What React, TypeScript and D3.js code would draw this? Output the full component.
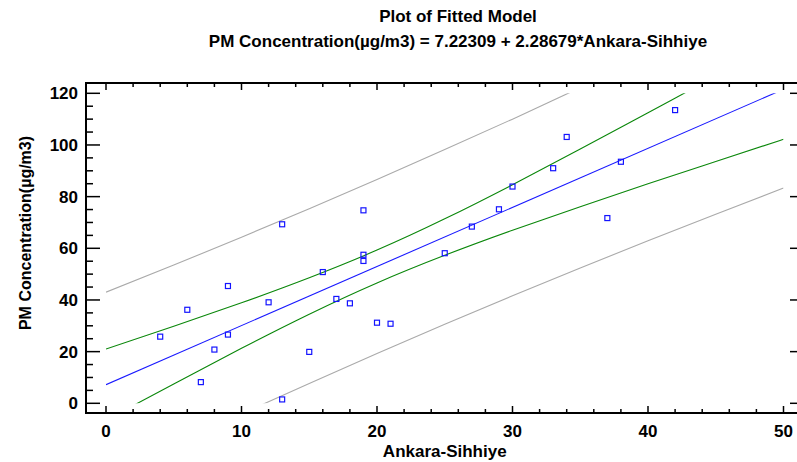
import * as d3 from 'd3';

// observations (Ankara-Sihhiye vs PM concentration)
const obsX = [4, 6, 7, 8, 9, 9, 12, 13, 13, 15, 16, 17, 18, 19, 19, 19, 20, 21, 25, 27, 29, 30, 33, 34, 37, 38, 42];
const obsY = [25.8, 36.2, 8.2, 20.8, 45.4, 26.6, 39.1, 1.5, 69.3, 19.9, 50.8, 40.4, 38.7, 57.5, 55.1, 74.7, 31.2, 30.8, 58.1, 68.4, 75.1, 83.9, 91.0, 103.1, 71.7, 93.5, 113.5];

// fitted model from the title
const intercept = 7.22309;
const slope = 2.28679;

// limits at these x values
const limitX = [0, 5, 10, 15, 20, 25, 30, 35, 40, 45, 50];
const upperMean = [21.0, 29.8, 38.9, 48.6, 59.3, 71.4, 84.6, 98.4, 112.5, 126.6, 140.9];
const lowerMean = [-6.5, 7.5, 21.3, 34.5, 46.6, 57.3, 67.0, 76.1, 85.0, 93.6, 102.2];
const upperPred = [43.0, 53.5, 64.3, 75.3, 86.6, 98.2, 110.0, 122.2, 134.5, 147.1, 159.9];
const lowerPred = [-28.6, -16.2, -4.1, 7.7, 19.3, 30.6, 41.6, 52.4, 62.9, 73.2, 83.3];

const xMajor = [0, 10, 20, 30, 40, 50];
const yMajor = [0, 20, 40, 60, 80, 100, 120];

const W = 797;
const H = 462;
const frame = { left: 86, top: 83, right: 798, bottom: 413 };
const font = '"Liberation Sans", Arial, Helvetica, sans-serif';

const x = d3.scaleLinear().domain([0, 50]).range([106, 783.5]);
const y = d3.scaleLinear().domain([0, 120]).range([403.3, 93.3]);

const xMinor = d3.range(0, 51, 2).filter((v) => v % 10 !== 0);
const yMinor = d3.range(0, 121, 5).filter((v) => v % 20 !== 0);

const band = (vals: number[]) =>
  d3.line<number>()
    .x((_, i) => x(limitX[i]))
    .y((d) => y(d))
    .curve(d3.curveNatural)(vals) || '';

export default function App() {
  const fitLine = d3.line<number>()
    .x((d) => x(d))
    .y((d) => y(intercept + slope * d))(x.domain()) || '';

  return (
    <svg width={W} height={H} style={{ position: 'absolute', left: 0, top: 0, background: '#fff' }}>
      <defs>
        <clipPath id="plotClip">
          <rect x={x(0)} y={y(120)} width={x(50) - x(0)} height={y(0) - y(120)} />
        </clipPath>
      </defs>

      {/* titles */}
      <g fontFamily={font} fontWeight="bold" fill="#000" textAnchor="middle">
        <text x={458} y={22} fontSize={17}>Plot of Fitted Model</text>
        <text x={458} y={47} fontSize={17}>PM Concentration(µg/m3) = 7.22309 + 2.28679*Ankara-Sihhiye</text>
      </g>

      {/* frame */}
      <rect x={frame.left} y={frame.top} width={frame.right - frame.left} height={frame.bottom - frame.top}
        fill="none" stroke="#000" strokeWidth={2} />

      {/* ticks */}
      <g stroke="#000" strokeWidth={1.5}>
        {yMajor.map((v) => (
          <line key={'yl' + v} x1={frame.left} x2={frame.left + 14} y1={y(v)} y2={y(v)} />
        ))}
        {yMinor.map((v) => (
          <line key={'ym' + v} x1={frame.left} x2={frame.left + 7} y1={y(v)} y2={y(v)} />
        ))}
        {yMajor.map((v) => (
          <line key={'yr' + v} x1={frame.right} x2={frame.right - 8} y1={y(v)} y2={y(v)} />
        ))}
        {xMajor.map((v) => (
          <g key={'xM' + v}>
            <line x1={x(v)} x2={x(v)} y1={frame.bottom} y2={frame.bottom - 7} />
            <line x1={x(v)} x2={x(v)} y1={frame.top} y2={frame.top + 7} />
          </g>
        ))}
        {xMinor.map((v) => (
          <g key={'xm' + v}>
            <line x1={x(v)} x2={x(v)} y1={frame.bottom} y2={frame.bottom - 4} />
            <line x1={x(v)} x2={x(v)} y1={frame.top} y2={frame.top + 4} />
          </g>
        ))}
      </g>

      {/* tick labels */}
      <g fontFamily={font} fontWeight="bold" fontSize={17} fill="#000">
        {yMajor.map((v) => (
          <text key={'ytl' + v} x={78} y={y(v)} dy="0.36em" textAnchor="end">{v}</text>
        ))}
        {xMajor.map((v) => (
          <text key={'xtl' + v} x={x(v)} y={437} textAnchor="middle">{v}</text>
        ))}
      </g>

      {/* axis titles */}
      <g fontFamily={font} fontWeight="bold" fill="#000">
        <text x={x(25)} y={457} fontSize={17} textAnchor="middle">Ankara-Sihhiye</text>
        <text transform="translate(31,233) rotate(-90)" fontSize={16} textAnchor="middle">PM Concentration(µg/m3)</text>
      </g>

      {/* fitted line and limits */}
      <g clipPath="url(#plotClip)" fill="none" strokeWidth={1.1}>
        <path d={band(upperPred)} stroke="#aaaaaa" />
        <path d={band(lowerPred)} stroke="#aaaaaa" />
        <path d={band(upperMean)} stroke="#0a870a" />
        <path d={band(lowerMean)} stroke="#0a870a" />
        <path d={fitLine} stroke="#1a1aff" />
      </g>

      {/* observations */}
      <g fill="none" stroke="#1414ff" strokeWidth={1.2}>
        {obsX.map((v, i) => (
          <rect key={i} x={x(v) - 2.5} y={y(obsY[i]) - 2.5} width={5} height={5} />
        ))}
      </g>
    </svg>
  );
}
